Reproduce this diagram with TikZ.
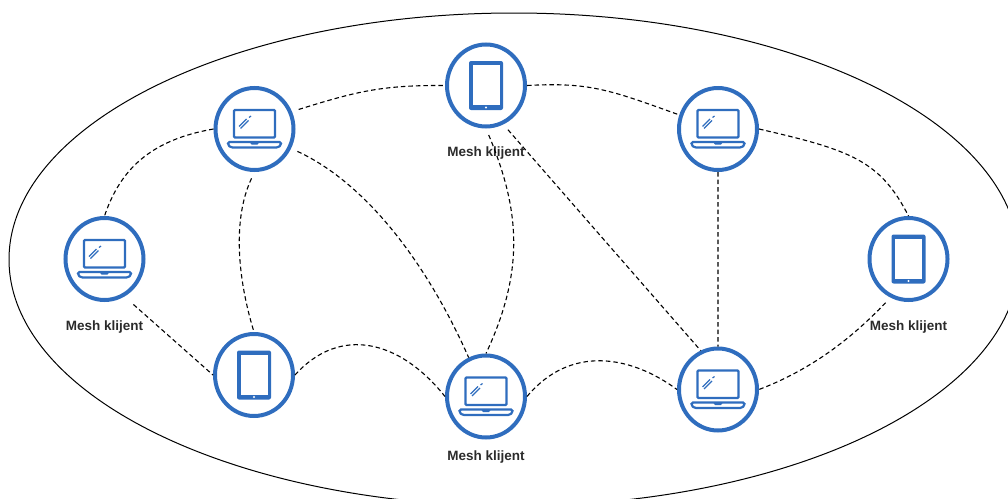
\documentclass[tikz,border=0pt]{standalone}
\usepackage{fontspec}
\usetikzlibrary{shapes.geometric}
\setmainfont{Liberation Sans}
\definecolor{meshblue}{HTML}{2F6DBE}
\definecolor{meshtext}{HTML}{2B2B2B}
\tikzset{
    client/.style={draw=meshblue, line width=4pt, ellipse, minimum width=78pt, minimum height=82pt, inner sep=0pt},
    link/.style={line width=1.1pt, dash pattern=on 4.5pt off 3pt},
    gapped/.style={link, shorten <=7pt},
    meshlabel/.style={text=meshtext, font=\fontsize{13.5}{15}\selectfont\bfseries, inner sep=0pt},
    laptop/.pic={
        \draw[meshblue, line width=2.4pt, rounded corners=1pt] (-20.5,-19) rectangle (20.5,8.5);
        \draw[meshblue, line width=2.2pt, rounded corners=1.5pt, fill=white] (-26.5,13) -- (26.5,13) -- (26.5,16) -- (23.5,18.5) -- (-23.5,18.5) -- (-26.5,16) -- cycle;
        \fill[meshblue] (-5,13) -- (5,13) -- (3,15.5) -- (-3,15.5) -- cycle;
        \draw[meshblue, line width=1.2pt] (-15.5,-2.5) -- (-8,-10) (-14,-0.5) -- (-6,-8.5) (-5.5,-11.5) -- (-3.5,-13);
    },
    tablet/.pic={
        \fill[meshblue, rounded corners=2pt] (-17,-24.5) rectangle (17,24.5);
        \fill[white] (-13.5,-20.5) rectangle (13.5,19.5);
        \fill[white] (0,22) circle (1.2);
    },
}
\begin{document}
\begin{tikzpicture}[x=1pt, y=-1pt]
    \useasboundingbox (0,0) rectangle (1008,498);
    \begin{scope}
        \clip (0,0) rectangle (1008,498);
        \draw[line width=1pt] (514,259.5) ellipse [x radius=505, y radius=246.5];
    \end{scope}

    \node[client] (l1) at (254.5,129) {};
    \node[client] (l2) at (718,129) {};
    \node[client] (l3) at (104.5,259) {};
    \node[client] (l4) at (486,396.5) {};
    \node[client] (l5) at (718,389.5) {};
    \node[client] (t1) at (486,85.5) {};
    \node[client] (t2) at (908.5,259) {};
    \node[client] (t3) at (254,375) {};

    \pic at (l1) {laptop};
    \pic at (l2) {laptop};
    \pic at (l3) {laptop};
    \pic at (l4) {laptop};
    \pic at (l5) {laptop};
    \pic at (t1) {tablet};
    \pic at (t2) {tablet};
    \pic at (t3) {tablet};

    \node[meshlabel] (m1) at (486,153) {Mesh klijent};
    \node[meshlabel] (m2) at (104.5,327) {Mesh klijent};
    \node[meshlabel] (m3) at (486,457) {Mesh klijent};
    \node[meshlabel] (m4) at (908.5,327) {Mesh klijent};

    \draw[link]
        (t1.0) .. controls (590,82) and (610,90) .. (l2.160)
        (l2.0) .. controls (850,150) and (880,160) .. (t2.90)
        (l1.180) .. controls (150,140) and (120,170) .. (l3.90)
        (t3.0) .. controls (340,325) and (400,340) .. (l4.180)
        (l4.0) .. controls (570,345) and (630,355) .. (l5.180)
        (l2.270) -- (l5.90)
        ;
    \draw[gapped] (l1.25) .. controls (355,92) and (380,85) .. (t1.180);
    \draw[gapped] (l1.270) .. controls (232,220) and (238,280) .. (t3.90);
    \draw[gapped] (l1.-28) .. controls (370,185) and (430,270) .. (l4.114);
    \draw[gapped] (t1.270) .. controls (520,210) and (525,270) .. (l4.90);
    \draw[gapped] (t1.-66) -- (l5.114);
    \draw[gapped, shorten <=12pt] (l3.-62) -- (t3.180);
    \draw[gapped] (t2.-115) .. controls (850,340) and (810,370) .. (l5.0);
\end{tikzpicture}
\end{document}
